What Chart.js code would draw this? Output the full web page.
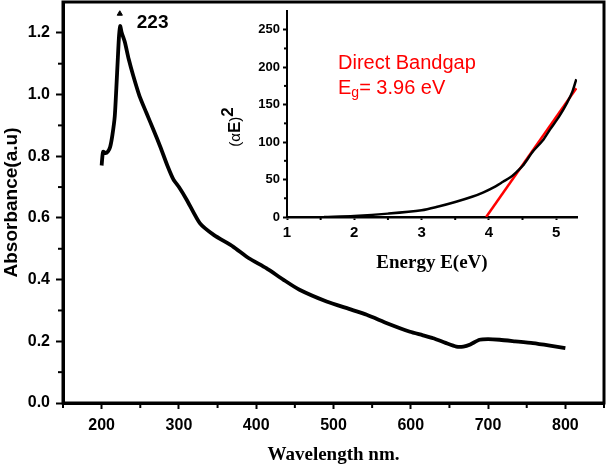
<!DOCTYPE html>
<html>
<head>
<meta charset="utf-8">
<script src="https://cdn.jsdelivr.net/npm/chart.js@4"></script>
<style>
  html, body { margin: 0; padding: 0; background: #fff; }
  #wrap { position: relative; width: 606px; height: 466px; }
  #main { position: absolute; left: 0; top: 0; }
  #inset { position: absolute; left: 215px; top: 5px; }
</style>
</head>
<body>
<div id="wrap">
  <canvas id="main" width="606" height="466"></canvas>
  <canvas id="inset" width="370" height="275"></canvas>
</div>
<script>
// UV-vis spectrum (main plot)
let wavelength = [200, 201, 202, 205, 208, 211, 214, 217, 219, 221, 222.5, 224, 226, 230, 235, 241, 249, 258, 267, 276, 285, 293, 300, 310, 327, 345, 370, 390, 413, 435, 456, 491, 520, 543, 570, 599, 615, 629, 645, 659, 668, 677, 689, 700, 715, 735, 758, 780, 800];
let absorbance = [0.77, 0.80, 0.815, 0.81, 0.815, 0.83, 0.87, 0.93, 1.02, 1.12, 1.19, 1.222, 1.20, 1.17, 1.115, 1.06, 0.995, 0.94, 0.886, 0.83, 0.77, 0.724, 0.70, 0.659, 0.583, 0.545, 0.507, 0.47, 0.437, 0.40, 0.367, 0.329, 0.305, 0.286, 0.258, 0.231, 0.22, 0.21, 0.195, 0.183, 0.183, 0.19, 0.205, 0.207, 0.205, 0.20, 0.194, 0.186, 0.178];
let peakWavelength = [223.5];
let peakMarker = [1.262];
let peakLabel = '223';
let xTicks = [200, 300, 400, 500, 600, 700, 800];
let xMinorTicks = [150, 250, 350, 450, 550, 650, 750, 850];
let yTicks = [0, 0.2, 0.4, 0.6, 0.8, 1.0, 1.2];
let yMinorTicks = [0.1, 0.3, 0.5, 0.7, 0.9, 1.1];

// Tauc plot (inset)
let energy = [1.55, 2.0, 2.5, 3.0, 3.25, 3.5, 3.75, 3.92, 4.1, 4.21, 4.32, 4.41, 4.5, 4.66, 4.8, 4.91, 5.05, 5.16, 5.24, 5.3];
let alphaE2 = [0, 1.5, 4.5, 9, 14, 20, 27, 33, 41, 47, 53, 60, 68, 88, 102, 117, 135, 152, 167, 184];
let fitEnergy = [3.96, 5.3];
let fitValue = [0, 172];
let insetXTicks = [1, 2, 3, 4, 5];
let insetXMinor = [1.5, 2.5, 3.5, 4.5];
let insetYTicks = [0, 50, 100, 150, 200, 250];
let insetYMinor = [25, 75, 125, 175, 225];

const sans = "'Liberation Sans', Arial, sans-serif";
const serif = "'Liberation Serif', 'Times New Roman', serif";

function pts(xs, ys) {
  return xs.map((x, i) => ({ x: x, y: ys[i] }));
}

// fixed axis box, no extra label overflow padding
function fixSize(prop, size) {
  return s => {
    s[prop] = size;
    s.paddingLeft = s.paddingRight = s.paddingTop = s.paddingBottom = 0;
  };
}

function minorTicks(chart, xs, ys, len, width) {
  const ctx = chart.ctx, a = chart.chartArea;
  ctx.lineWidth = width;
  ctx.strokeStyle = '#000';
  xs.forEach(v => {
    const px = chart.scales.x.getPixelForValue(v);
    ctx.beginPath(); ctx.moveTo(px, a.bottom); ctx.lineTo(px, a.bottom + len); ctx.stroke();
  });
  ys.forEach(v => {
    const py = chart.scales.y.getPixelForValue(v);
    ctx.beginPath(); ctx.moveTo(a.left, py); ctx.lineTo(a.left - len, py); ctx.stroke();
  });
}

new Chart(document.getElementById('main'), {
  type: 'scatter',
  data: {
    datasets: [{
      data: pts(wavelength, absorbance),
      showLine: true,
      borderColor: '#000',
      borderWidth: 3.8,
      pointRadius: 0,
      tension: 0.2
    }, {
      data: pts(peakWavelength, peakMarker),
      pointStyle: 'triangle',
      pointRadius: 3,
      backgroundColor: '#000',
      borderColor: '#000',
      borderWidth: 1
    }]
  },
  options: {
    responsive: false,
    animation: false,
    layout: { autoPadding: false, padding: { top: 2, right: 2, left: 0, bottom: 0 } },
    plugins: { legend: { display: false }, tooltip: { enabled: false } },
    scales: {
      x: {
        type: 'linear', min: 150, max: 850,
        afterFit: fixSize('height', 63),
        afterBuildTicks: s => { s.ticks = xTicks.map(v => ({ value: v })); },
        border: { color: '#000', width: 3 },
        grid: { drawOnChartArea: false, tickLength: 6, tickColor: '#000', tickWidth: 2 },
        ticks: { color: '#000', padding: 7, font: { family: sans, size: 16, weight: 'bold' } },
        title: { display: true, text: 'Wavelength nm.', color: '#000', padding: { top: 0, bottom: 0 },
          font: { family: serif, size: 19, weight: 'bold' } }
      },
      y: {
        min: 0, max: 1.3,
        afterFit: fixSize('width', 63),
        afterBuildTicks: s => { s.ticks = yTicks.map(v => ({ value: v })); },
        border: { color: '#000', width: 3 },
        grid: { drawOnChartArea: false, tickLength: 7, tickColor: '#000', tickWidth: 2 },
        ticks: { color: '#000', padding: 6, callback: v => v.toFixed(1),
          font: { family: sans, size: 16, weight: 'bold' } },
        title: { display: true, text: 'Absorbance(a.u)', color: '#000', padding: 0,
          font: { family: sans, size: 19, weight: 'bold' } }
      }
    }
  },
  plugins: [{
    id: 'mainDecor',
    afterDraw(chart) {
      const ctx = chart.ctx, a = chart.chartArea;
      ctx.save();
      ctx.strokeStyle = '#000';
      ctx.lineWidth = 3;
      ctx.strokeRect(a.left, a.top, a.right - a.left, a.bottom - a.top);
      minorTicks(chart, xMinorTicks, yMinorTicks, 5, 2);
      const px = chart.scales.x.getPixelForValue(peakWavelength[0]);
      const py = chart.scales.y.getPixelForValue(peakMarker[0]);
      ctx.fillStyle = '#000';
      ctx.font = 'bold 19px ' + sans;
      ctx.textBaseline = 'middle';
      ctx.textAlign = 'left';
      ctx.fillText(peakLabel, px + 17, py + 9);
      ctx.restore();
    }
  }]
});

new Chart(document.getElementById('inset'), {
  type: 'scatter',
  data: {
    datasets: [{
      data: pts(energy, alphaE2),
      showLine: true,
      borderColor: '#000',
      borderWidth: 2.5,
      pointRadius: 0,
      tension: 0.3
    }, {
      data: pts(fitEnergy, fitValue),
      showLine: true,
      borderColor: '#ff0000',
      borderWidth: 2.5,
      pointRadius: 0
    }]
  },
  options: {
    responsive: false,
    animation: false,
    layout: { autoPadding: false, padding: { top: 6, right: 8, left: 0, bottom: 0 } },
    plugins: { legend: { display: false }, tooltip: { enabled: false } },
    scales: {
      x: {
        type: 'linear', min: 1, max: 5.31,
        afterFit: fixSize('height', 63),
        afterBuildTicks: s => { s.ticks = insetXTicks.map(v => ({ value: v })); },
        border: { color: '#000', width: 2.5 },
        grid: { drawOnChartArea: false, tickLength: 3, tickColor: '#000', tickWidth: 2 },
        ticks: { color: '#000', padding: 4, font: { family: sans, size: 15, weight: 'bold' } },
        title: { display: true, text: 'Energy E(eV)', color: '#000', padding: { top: 0, bottom: 6 },
          font: { family: serif, size: 19, weight: 'bold' } }
      },
      y: {
        min: 0, max: 275,
        afterFit: fixSize('width', 72),
        afterBuildTicks: s => { s.ticks = insetYTicks.map(v => ({ value: v })); },
        border: { color: '#000', width: 2 },
        grid: { drawOnChartArea: false, tickLength: 4, tickColor: '#000', tickWidth: 2 },
        ticks: { color: '#000', padding: 3, font: { family: sans, size: 13, weight: 'bold' } }
      }
    }
  },
  plugins: [{
    id: 'insetDecor',
    afterDraw(chart) {
      const ctx = chart.ctx, a = chart.chartArea;
      ctx.save();
      minorTicks(chart, insetXMinor, insetYMinor, 3, 2);

      // y title (αE)² drawn rotated
      ctx.translate(a.left - 53, (a.top + a.bottom) / 2 + 13);
      ctx.rotate(-Math.PI / 2);
      ctx.fillStyle = '#000';
      ctx.textBaseline = 'alphabetic';
      ctx.textAlign = 'left';
      const parts = [
        { t: '(\u03b1', f: '15px ' + sans, dy: 0 },
        { t: 'E', f: 'bold 17px ' + sans, dy: 0 },
        { t: ')', f: '15px ' + sans, dy: 0 },
        { t: '2', f: 'bold 17px ' + sans, dy: -7 }
      ];
      let w = 0;
      parts.forEach(p => { ctx.font = p.f; w += ctx.measureText(p.t).width; });
      let x = -w / 2;
      parts.forEach(p => { ctx.font = p.f; ctx.fillText(p.t, x, 6 + p.dy); x += ctx.measureText(p.t).width; });
      ctx.restore();

      // red annotation
      ctx.save();
      ctx.fillStyle = '#ff0000';
      ctx.textBaseline = 'middle';
      ctx.textAlign = 'left';
      const tx = a.left + 51;
      ctx.font = '20px ' + sans;
      ctx.fillText('Direct Bandgap', tx, a.top + 52);
      ctx.fillText('E', tx, a.top + 77);
      let ex = tx + ctx.measureText('E').width;
      ctx.font = '14px ' + sans;
      ctx.fillText('g', ex, a.top + 82);
      ex += ctx.measureText('g').width;
      ctx.font = '20px ' + sans;
      ctx.fillText('= 3.96 eV', ex, a.top + 77);
      ctx.restore();
    }
  }]
});
</script>
</body>
</html>
